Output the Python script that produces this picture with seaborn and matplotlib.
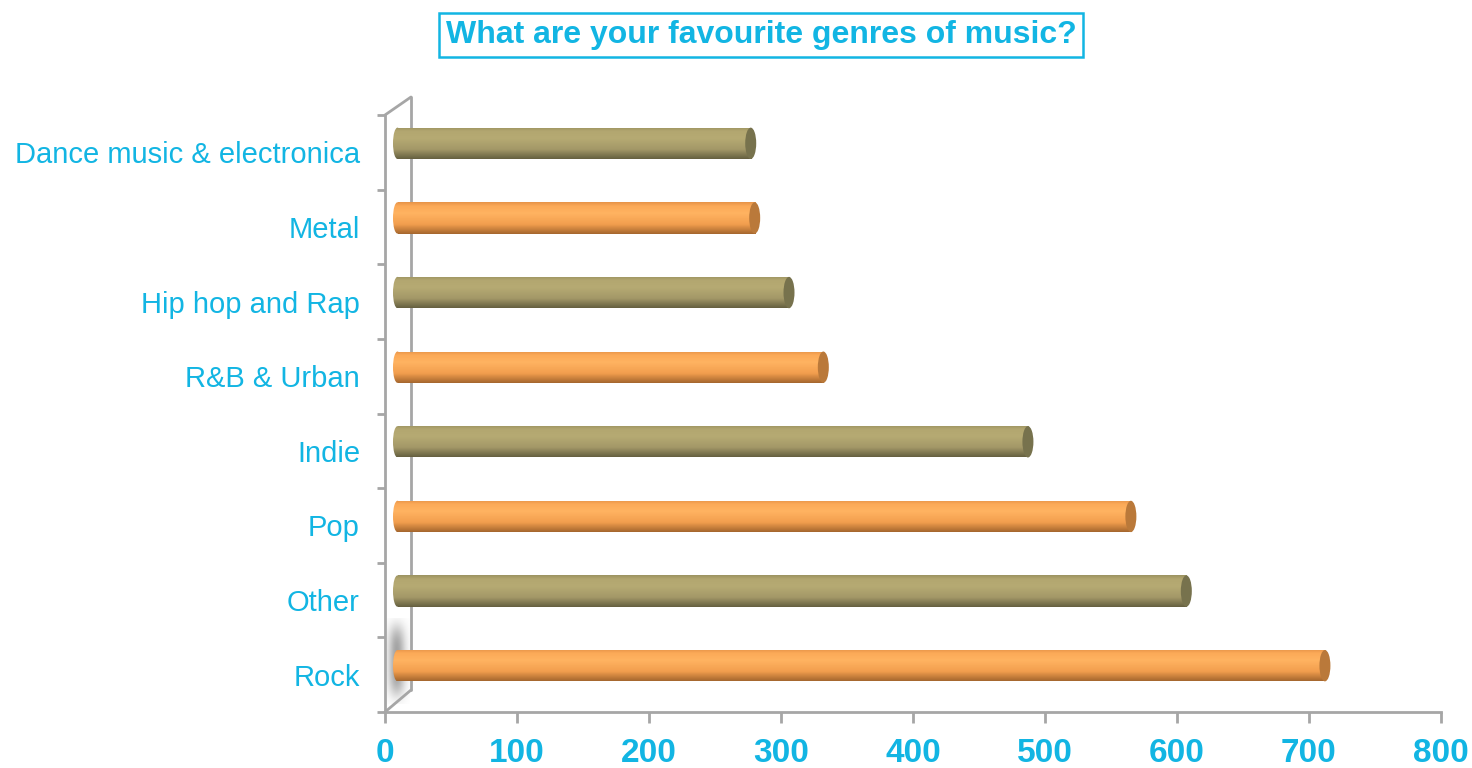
import numpy as np
import pandas as pd
import matplotlib
matplotlib.use("Agg")
import matplotlib.pyplot as plt
import seaborn as sns
from matplotlib.colors import LinearSegmentedColormap
from matplotlib.patches import Ellipse
from matplotlib.lines import Line2D
from matplotlib.transforms import ScaledTranslation

# ---- data ----
categories = ["Dance music & electronica", "Metal", "Hip hop and Rap", "R&B & Urban",
              "Indie", "Pop", "Other", "Rock"]
values = [271, 274, 300, 326, 481, 559, 601, 706]
x_ticks = [0, 100, 200, 300, 400, 500, 600, 700, 800]
title = "What are your favourite genres of music?"

OLIVE = "#B1A66F"
ORANGE = "#FDAA5A"
bar_colors = [OLIVE, ORANGE, OLIVE, ORANGE, OLIVE, ORANGE, OLIVE, ORANGE]
CYAN = "#12B5E3"
GRAY = "#A6A6A6"

sns.set_theme(style="white")
plt.rcParams["font.family"] = ["Liberation Sans", "DejaVu Sans"]

W, H, DPI = 1472, 768, 100
fig = plt.figure(figsize=(W / DPI, H / DPI), dpi=DPI)
ax_l, ax_r, ax_t, ax_b = 385, 1441, 115, 712
ax = fig.add_axes([ax_l / W, 1 - ax_b / H, (ax_r - ax_l) / W, (ax_b - ax_t) / H])

df = pd.DataFrame({"genre": categories, "count": values})
sns.barplot(data=df, y="genre", x="count", hue="genre", palette=bar_colors,
            order=categories, width=0.42, orient="h", legend=False, ax=ax,
            saturation=1)

ax.set_xlim(0, 800)
ax.set_ylim(len(categories) - 0.5, -0.5)

# 3D-ish offset of the bars (depth)
off = ax.transData + ScaledTranslation(8 / DPI, 9 / DPI, fig.dpi_scale_trans)

grad = {
    OLIVE: LinearSegmentedColormap.from_list("o", [(0, "#9C9361"), (0.12, "#B3A770"), (0.35, "#B6AA73"),
                                                   (0.7, "#A39868"), (1, "#656040")]),
    ORANGE: LinearSegmentedColormap.from_list("r", [(0, "#E79448"), (0.12, "#FCAA58"), (0.35, "#FFB361"),
                                                    (0.7, "#F29E4E"), (1, "#A5672E")]),
}
cap_col = {OLIVE: "#77724D", ORANGE: "#BA793A"}

px_per_unit = (ax_r - ax_l) / 800.0
cap_w = 11 / px_per_unit
left_w = 9 / px_per_unit
patches = list(ax.patches)
g = np.linspace(0, 1, 64).reshape(-1, 1)
for p in patches:
    x0, y0 = p.get_x(), p.get_y()
    w, h = p.get_width(), p.get_height()
    fc = matplotlib.colors.to_hex(p.get_facecolor())
    base = OLIVE if fc.lower() == OLIVE.lower() else ORANGE
    p.set_transform(off)
    p.set_edgecolor("none")
    p.set_x(x0 + left_w / 2)
    p.set_width(w - left_w / 2)
    # rounded left end
    le = Ellipse((x0 + left_w / 2, y0 + h / 2), width=left_w, height=h, transform=off,
                 facecolor="none", edgecolor="none")
    ax.add_patch(le)
    for clip in (p, le):
        im = ax.imshow(g, cmap=grad[base], aspect="auto", origin="upper",
                       extent=(x0, x0 + w, y0 + h, y0), zorder=2, interpolation="bilinear")
        im.set_transform(off)
        im.set_clip_path(clip)
    cap = Ellipse((x0 + w, y0 + h / 2), width=cap_w, height=h, transform=off, zorder=3,
                  facecolor=cap_col[base], edgecolor="none")
    ax.add_patch(cap)

ax.set_xlim(0, 800)
ax.set_ylim(len(categories) - 0.5, -0.5)

# axes styling
for s in ["top", "right"]:
    ax.spines[s].set_visible(False)
for s in ["left", "bottom"]:
    ax.spines[s].set_color(GRAY)
    ax.spines[s].set_linewidth(2)

ax.set_xticks(x_ticks)
ax.set_xticklabels([str(t) for t in x_ticks])
ax.tick_params(axis="x", length=8, width=2, color=GRAY, direction="out", pad=11,
               labelsize=24, labelcolor=CYAN, bottom=True)
for t in ax.get_xticklabels():
    t.set_fontweight("bold")

ax.set_yticks(range(len(categories)))
ax.set_yticklabels(categories)
ax.set_yticks(np.arange(-0.5, len(categories)), minor=True)
ax.tick_params(axis="y", which="major", length=0, pad=18, labelsize=21, labelcolor=CYAN)
ax.tick_params(axis="y", which="minor", length=6, width=2, color=GRAY, direction="out", left=True)
ax.set_xlabel("")
ax.set_ylabel("")
ax.grid(False)

# side wall (3D frame)
def fx(x):
    return x / W
def fy(y):
    return 1 - y / H

# soft shadow on the wall near the lowest bar
sh_ax = fig.add_axes([fx(387), fy(704), (410 - 387) / W, (704 - 618) / H])
yy, xx = np.mgrid[-1:1:100j, -1:1:40j]
blob = np.exp(-((xx + 0.15) / 0.75) ** 2 - (yy / 0.8) ** 4)
shadow_cmap = LinearSegmentedColormap.from_list("sh", ["#FFFFFF", "#A3A3A3"])
sh_ax.imshow(blob, cmap=shadow_cmap, aspect="auto", vmin=0, vmax=1, interpolation="bilinear")
sh_ax.set_axis_off()
sh_ax.set_zorder(-1)
ax.set_zorder(1)
ax.patch.set_alpha(0)

for (xa, ya), (xb, yb) in [((385, 115), (411, 97)), ((411, 97), (411, 690)), ((411, 690), (385, 712))]:
    fig.add_artist(Line2D([fx(xa), fx(xb)], [fy(ya), fy(yb)], transform=fig.transFigure,
                          color=GRAY, lw=2, zorder=0.5))

fig.text(761 / W, 1 - 35 / H, title, ha="center", va="center", fontsize=23,
         fontweight="bold", color=CYAN,
         bbox=dict(boxstyle="square,pad=0.22", facecolor="white", edgecolor=CYAN, linewidth=1.8))

fig.savefig("out.png", dpi=DPI)
